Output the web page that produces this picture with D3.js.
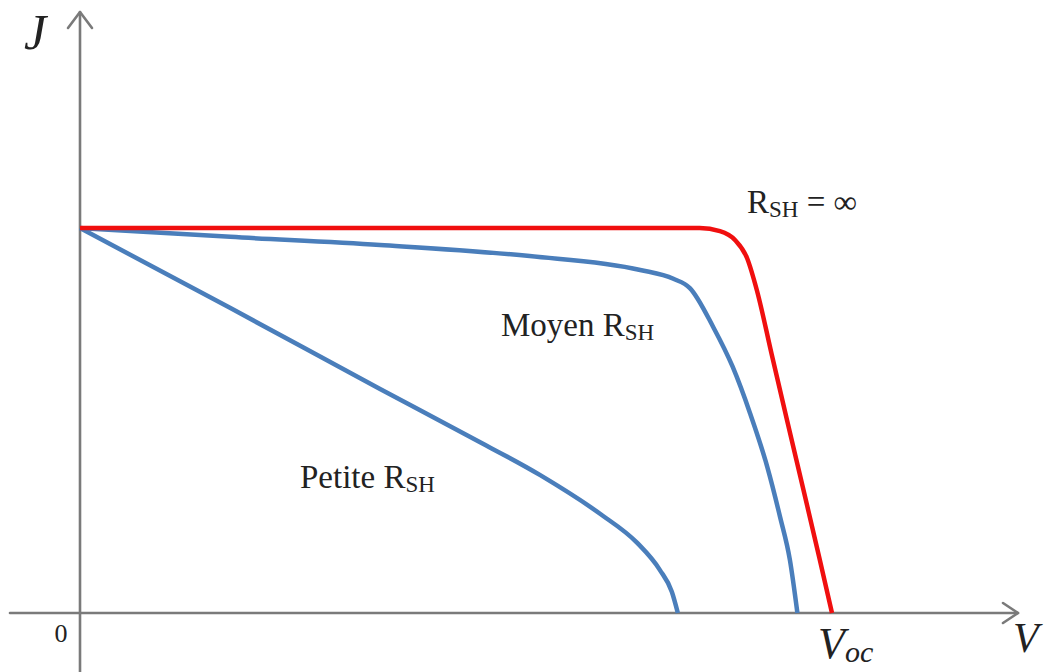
<!DOCTYPE html>
<html>
<head>
<meta charset="utf-8">
<script src="https://cdn.jsdelivr.net/npm/d3@7"></script>
<style>
  html, body { margin: 0; padding: 0; background: #fff; }
  svg { display: block; }
  .lbl { font-family: "Liberation Serif", "Times New Roman", serif; fill: #222; }
</style>
</head>
<body>
<div id="chart"></div>
<script>
// J–V characteristics of a solar cell for three shunt resistances.
// Voltage and current density are given in % of V_oc and J_sc.

const rshInfV = [0, 30, 56, 82.4, 85.1, 87.1, 88.7, 90.0, 92.0, 94.1, 96.2, 98.3, 100];
const rshInfJ = [100, 100, 100, 100, 99.2, 96.9, 92.2, 83.9, 67.0, 49.4, 32.0, 14.5, 0];

const rshMidV = [0, 20, 39.9, 59.8, 74.5, 78.9, 81.1, 84.2, 86.8, 89.1, 91.4, 93.1, 94.4, 95.4];
const rshMidJ = [100, 97.7, 95.6, 92.7, 89.1, 86.8, 84.4, 74.3, 63.9, 51.9, 37.9, 24.9, 13.8, 0];

const rshLowV = [0, 20, 39.9, 51.9, 61.2, 69.2, 74.1, 77.1, 78.7, 79.5];
const rshLowJ = [100, 79.2, 58.2, 45.7, 35.8, 25.7, 18.2, 11.2, 5.5, 0];

const seriesNames = ["RSH = ∞", "Moyen RSH", "Petite RSH"];
const axisLabels = { y: "J", x: "V", origin: "0", voc: "V", vocSub: "oc" };

const W = 1044, H = 672;
const svg = d3.select("#chart").append("svg").attr("width", W).attr("height", H);

const x = d3.scaleLinear().domain([0, 100]).range([80, 832]);
const y = d3.scaleLinear().domain([0, 100]).range([613, 228]);

// Axis extents (in data units)
const xAxisStart = x.invert(10), xAxisEnd = x.invert(1018);
const yAxisBottom = y.invert(672), yAxisTop = y.invert(12);

const axisColor = "#7a7a7a";
const ax = svg.append("g").attr("stroke", axisColor).attr("fill", "none")
  .attr("stroke-width", 2.6).attr("stroke-linecap", "round").attr("stroke-linejoin", "round");

// horizontal V axis with arrow
ax.append("line").attr("x1", x(xAxisStart)).attr("x2", x(xAxisEnd))
  .attr("y1", y(0)).attr("y2", y(0));
ax.append("path").attr("d", () => {
  const tx = x(xAxisEnd), ty = y(0);
  return `M${tx - 15},${ty - 10} L${tx},${ty} L${tx - 15},${ty + 10}`;
});

// vertical J axis with arrow
ax.append("line").attr("x1", x(0)).attr("x2", x(0))
  .attr("y1", y(yAxisBottom)).attr("y2", y(yAxisTop));
ax.append("path").attr("d", () => {
  const tx = x(0), ty = y(yAxisTop);
  return `M${tx - 12},${ty + 16} L${tx},${ty} L${tx + 12},${ty + 16}`;
});

// curves
const line = d3.line()
  .x(d => x(d[0])).y(d => y(d[1]))
  .curve(d3.curveMonotoneX);

const curves = [
  { v: rshLowV, j: rshLowJ, color: "#4a7ebb" },
  { v: rshMidV, j: rshMidJ, color: "#4a7ebb" },
  { v: rshInfV, j: rshInfJ, color: "#f00f0f" }
];

svg.append("g").selectAll("path").data(curves).join("path")
  .attr("d", c => line(c.v.map((v, i) => [v, c.j[i]])))
  .attr("fill", "none")
  .attr("stroke", c => c.color)
  .attr("stroke-width", 4.5)
  .attr("stroke-linecap", "butt")
  .attr("stroke-linejoin", "round");

// curve labels: "R" + subscript "SH"
function rshLabel(prefix, suffix, px, py) {
  const t = svg.append("text").attr("class", "lbl").attr("x", px).attr("y", py)
    .attr("font-size", 33);
  t.append("tspan").text(prefix + "R");
  t.append("tspan").attr("font-size", 23).attr("dy", 4).text("SH");
  if (suffix) t.append("tspan").attr("dy", -4).text(suffix);
}
rshLabel("", " = ∞", 747, 213);
rshLabel("Moyen ", "", 501, 336);
rshLabel("Petite ", "", 300, 488);

// axis labels
svg.append("text").attr("class", "lbl").attr("x", 24).attr("y", 49)
  .attr("font-size", 50).attr("font-style", "italic").text(axisLabels.y);
svg.append("text").attr("class", "lbl").attr("x", 61).attr("y", 642)
  .attr("font-size", 26).attr("text-anchor", "middle").text(axisLabels.origin);

const voc = svg.append("text").attr("class", "lbl").attr("x", 818).attr("y", 658)
  .attr("font-size", 44).attr("font-style", "italic");
voc.append("tspan").text(axisLabels.voc);
voc.append("tspan").attr("font-size", 30).attr("dy", 4).text(axisLabels.vocSub);

svg.append("text").attr("class", "lbl").attr("x", 1013).attr("y", 652)
  .attr("font-size", 42).attr("font-style", "italic").text(axisLabels.x);
</script>
</body>
</html>
